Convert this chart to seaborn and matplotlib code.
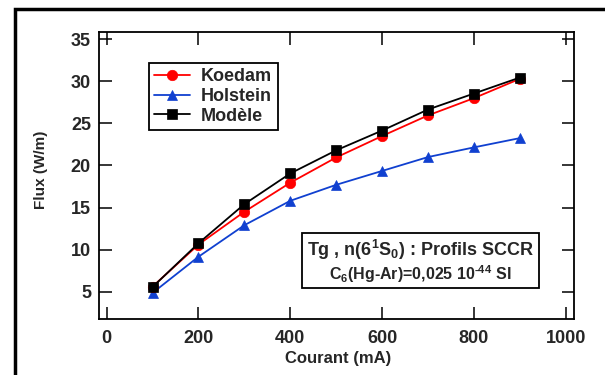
import numpy as np
import pandas as pd
import seaborn as sns
import matplotlib
matplotlib.use("Agg")
import matplotlib.pyplot as plt
from matplotlib.patches import Rectangle

# ---- data ----
courant = [100, 200, 300, 400, 500, 600, 700, 800, 900]
koedam = [5.6, 10.6, 14.5, 17.95, 20.95, 23.5, 25.95, 28.0, 30.3]
holstein = [4.85, 9.15, 12.9, 15.8, 17.7, 19.35, 21.0, 22.15, 23.25]
modele = [5.55, 10.75, 15.4, 19.05, 21.8, 24.15, 26.65, 28.55, 30.45]
series_names = ["Koedam", "Holstein", "Modèle"]
x_ticks = [0, 200, 400, 600, 800, 1000]
y_ticks = [5, 10, 15, 20, 25, 30, 35]

sns.set_theme(style="white")
plt.rcParams["font.family"] = ["Liberation Sans", "DejaVu Sans"]
plt.rcParams["font.weight"] = "bold"
plt.rcParams["mathtext.fontset"] = "custom"
plt.rcParams["mathtext.rm"] = "Liberation Sans:bold"
plt.rcParams["mathtext.it"] = "Liberation Sans:bold"
plt.rcParams["mathtext.bf"] = "Liberation Sans:bold"

df = pd.DataFrame({
    "Courant": courant * 3,
    "Flux": koedam + holstein + modele,
    "Serie": [series_names[0]] * 9 + [series_names[1]] * 9 + [series_names[2]] * 9,
})

fig = plt.figure(figsize=(6.05, 3.75), dpi=100)
ax = fig.add_axes([99.3 / 605, 1 - 319 / 375, (574 - 99.3) / 605, (319 - 31.7) / 375])

styles = {
    "Koedam": dict(color="#ff0000", marker="o", markersize=7.5),
    "Holstein": dict(color="#1040d0", marker="^", markersize=7.5),
    "Modèle": dict(color="#000000", marker="s", markersize=7.5),
}
order = ["Holstein", "Koedam", "Modèle"]
for i, name in enumerate(order):
    st = styles[name]
    sub = df[df["Serie"] == name]
    sns.lineplot(data=sub, x="Courant", y="Flux", ax=ax, color=st["color"],
                 marker=st["marker"], markersize=st["markersize"],
                 markeredgecolor=st["color"], markeredgewidth=0.5,
                 linewidth=1.3, label=name, zorder=3 + i)

ax.set_xlim(-16, 1018)
ax.set_ylim(1.75, 35.9)
ax.set_xticks(x_ticks)
ax.set_yticks(y_ticks)
ax.tick_params(axis="both", which="both", direction="in", length=9, width=1.1,
               color="black", labelsize=13, top=True, right=True,
               bottom=True, left=True)
ax.tick_params(axis="y", pad=6)
ax.tick_params(axis="x", pad=8)
for lab in ax.get_xticklabels() + ax.get_yticklabels():
    lab.set_fontweight("bold")
for sp in ax.spines.values():
    sp.set_color("black")
    sp.set_linewidth(1.3)

ax.set_xlabel("Courant (mA)", fontsize=12, fontweight="bold")
ax.set_ylabel("Flux (W/m)", fontsize=11, fontweight="bold")
ax.xaxis.set_label_coords(0.503, -0.1125)
ax.yaxis.set_label_coords(-0.108, 0.519)

handles, labels = ax.get_legend_handles_labels()
hmap = dict(zip(labels, handles))
leg = ax.legend([hmap[n] for n in series_names], series_names,
                loc="upper left", bbox_to_anchor=(0.104, 0.892),
                frameon=True, fancybox=False, edgecolor="black",
                framealpha=1, prop={"weight": "bold", "size": 13},
                handlelength=2.0, handletextpad=0.6, borderpad=0.3,
                labelspacing=0.15, borderaxespad=0)
leg.get_frame().set_linewidth(1.3)

# annotation box
bx0, bx1 = (302 - 99.3) / 474.7, (539 - 99.3) / 474.7
by0, by1 = (319 - 288) / 287.3, (319 - 233) / 287.3
ax.add_patch(Rectangle((bx0, by0), bx1 - bx0, by1 - by0, transform=ax.transAxes,
                       facecolor="white", edgecolor="black", linewidth=1.3, zorder=6))
cx = (bx0 + bx1) / 2
ax.text(cx, (319 - 249.5) / 287.3, r"Tg , n(6$^{1}$S$_{0}$) : Profils SCCR",
        transform=ax.transAxes, ha="center", va="center", fontsize=13,
        fontweight="bold", zorder=7)
ax.text(cx, (319 - 274.5) / 287.3, r"C$_{6}$(Hg-Ar)=0,025 10$^{\text{-}44}$ SI",
        transform=ax.transAxes, ha="center", va="center", fontsize=11.5,
        fontweight="bold", zorder=7)

# outer frame
fig.patches.append(Rectangle((15 / 605, -0.2), 1.5, 1 - 8.5 / 375 + 0.2,
                             transform=fig.transFigure, fill=False,
                             edgecolor="black", linewidth=2.5))

fig.savefig("out.png", dpi=100)
